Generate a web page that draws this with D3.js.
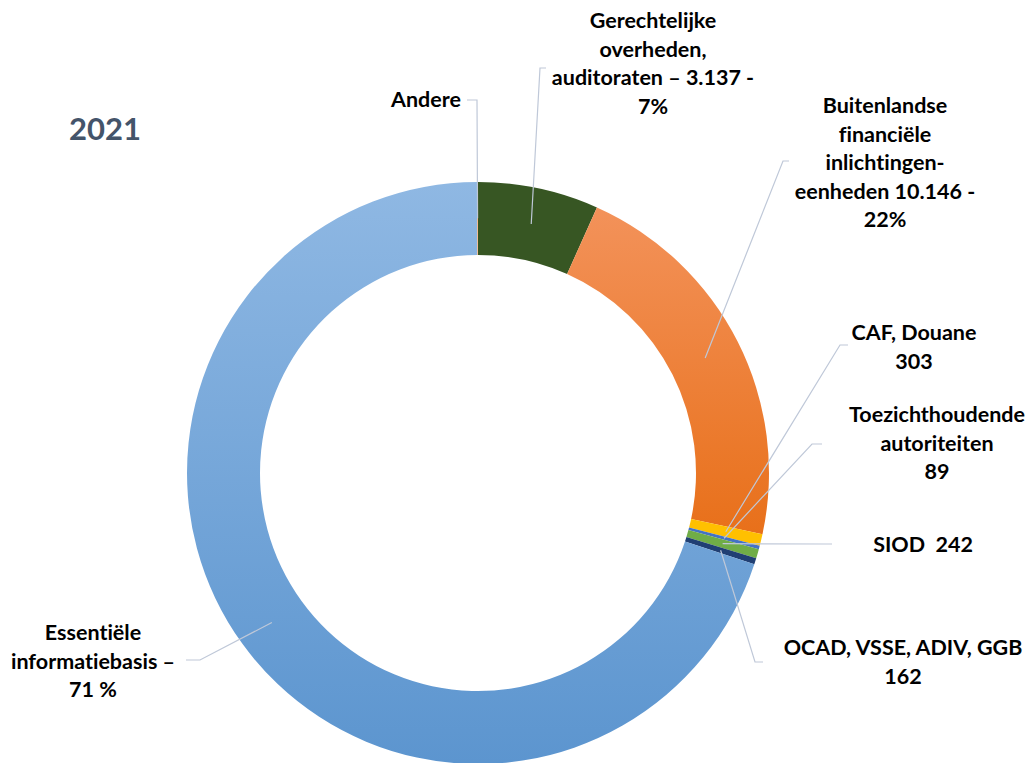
<!DOCTYPE html>
<html>
<head>
<meta charset="utf-8">
<script src="https://cdn.jsdelivr.net/npm/d3@7"></script>
<style>
  html, body { margin: 0; padding: 0; background: #ffffff; }
  svg { display: block; }
  text { font-family: Lato, "Open Sans", "Liberation Sans", sans-serif; font-weight: bold; font-variant-ligatures: none; white-space: pre; }
</style>
</head>
<body>
<svg id="chart" width="1029" height="763"></svg>
<script>
// ---- data ----
const title = "2021";
const categories = [
  "Gerechtelijke overheden, auditoraten",
  "Buitenlandse financiële inlichtingeneenheden",
  "CAF, Douane",
  "Toezichthoudende autoriteiten",
  "SIOD",
  "OCAD, VSSE, ADIV, GGB",
  "Essentiële informatiebasis",
  "Andere"
];
const values = [3137, 10146, 303, 89, 242, 162, 32700, 25];
const labelLines = [
  ["Gerechtelijke", "overheden,", "auditoraten – 3.137 -", "7%"],
  ["Buitenlandse", "financiële", "inlichtingen-", "eenheden 10.146 -", "22%"],
  ["CAF, Douane", "303"],
  ["Toezichthoudende", "autoriteiten", "89"],
  ["SIOD  242"],
  ["OCAD, VSSE, ADIV, GGB", "162"],
  ["Essentiële", "informatiebasis –", "71 %"],
  ["Andere"]
];

// ---- styles / layout ----
const colors = ["#375623", "url(#gOrange)", "#FFC000", "#4472C4", "#70AD47", "#203F73", "url(#gBlue)", "#F4B183"];
// label layout: text centre x, first baseline y, anchor, leader elbow, leader end
const layout = [
  { x: 653, y: 28,  anchor: "middle", elbow: [540, 68],  end: [546, 68] },
  { x: 885, y: 113, anchor: "middle", elbow: [783, 161], end: [789, 161] },
  { x: 914, y: 340, anchor: "middle", elbow: [840, 345], end: [848, 345] },
  { x: 937, y: 422, anchor: "middle", elbow: [812, 444], end: [822, 444] },
  { x: 923, y: 552, anchor: "middle", elbow: [826, 544], end: [832, 544] },
  { x: 903, y: 655, anchor: "middle", elbow: [755, 662], end: [763, 662] },
  { x: 93,  y: 640, anchor: "middle", elbow: [200, 660], end: [186, 660] },
  { x: 461, y: 107, anchor: "end",    elbow: [477, 100], end: [467, 100] }
];
const lineHeight = 28.5;
const fontSize = 21.5;
const cx = 478, cy = 473, outerR = 291, innerR = 218;

const svg = d3.select("#chart");
const defs = svg.append("defs");
const gb = defs.append("linearGradient").attr("id", "gBlue").attr("x1", 0).attr("y1", 0).attr("x2", 0).attr("y2", 1);
gb.append("stop").attr("offset", "0%").attr("stop-color", "#8FB8E3");
gb.append("stop").attr("offset", "100%").attr("stop-color", "#5C95CF");
const go = defs.append("linearGradient").attr("id", "gOrange").attr("x1", 0).attr("y1", 0).attr("x2", 0).attr("y2", 1);
go.append("stop").attr("offset", "0%").attr("stop-color", "#F3925A");
go.append("stop").attr("offset", "100%").attr("stop-color", "#E8701A");

const data = categories.map((c, i) => ({ name: c, value: values[i], i }));
const pie = d3.pie().value(d => d.value).sort(null).startAngle(0).endAngle(2 * Math.PI);
const arcs = pie(data);
const arc = d3.arc().innerRadius(innerR).outerRadius(outerR);

const g = svg.append("g").attr("transform", `translate(${cx},${cy})`);
g.selectAll("path.slice").data(arcs).enter().append("path")
  .attr("class", "slice")
  .attr("d", arc)
  .attr("fill", d => colors[d.data.i]);

// leader lines
const leaderArc = d3.arc().innerRadius(outerR * 0.76).outerRadius(outerR * 0.99);
svg.append("g").selectAll("polyline").data(arcs).enter().append("polyline")
  .attr("fill", "none")
  .attr("stroke", "#BFC8D8")
  .attr("stroke-width", 1.2)
  .attr("points", d => {
    const c = leaderArc.centroid(d);
    const L = layout[d.data.i];
    return [[c[0] + cx, c[1] + cy], L.elbow, L.end].map(p => p.join(",")).join(" ");
  });

// labels
const lg = svg.append("g");
arcs.forEach(d => {
  const L = layout[d.data.i];
  const t = lg.append("text")
    .attr("x", L.x).attr("y", L.y)
    .attr("text-anchor", L.anchor)
    .attr("font-size", fontSize)
    .attr("fill", "#000000");
  labelLines[d.data.i].forEach((line, k) => {
    t.append("tspan").attr("x", L.x).attr("y", L.y + k * lineHeight).text(line);
  });
});

// title
svg.append("text")
  .attr("x", 105).attr("y", 140)
  .attr("text-anchor", "middle")
  .attr("font-size", 31)
  .attr("fill", "#44546A")
  .text(title);
</script>
</body>
</html>
